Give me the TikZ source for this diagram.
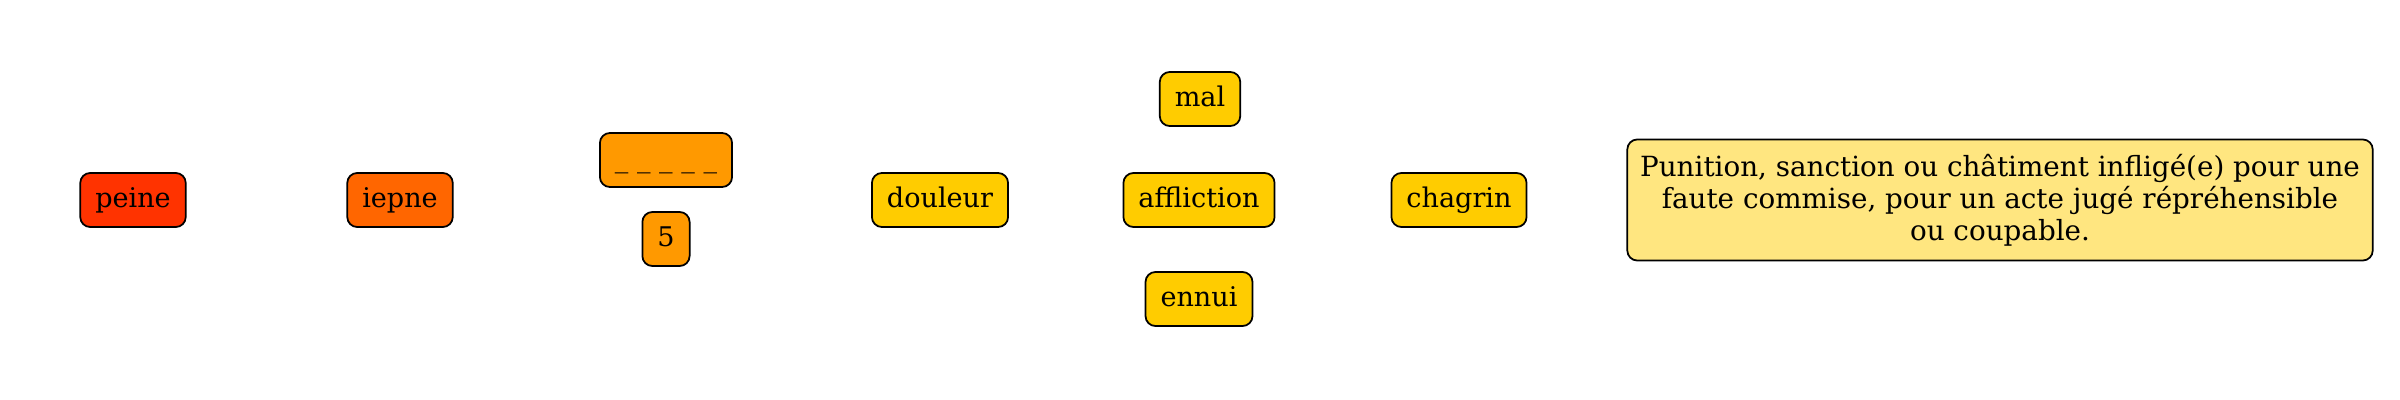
\documentclass[tikz,border=0pt]{standalone}
\usepackage{fontspec}
\setmainfont{DejaVu Serif}
\definecolor{cpeine}{HTML}{FF3300}
\definecolor{ciepne}{HTML}{FF6600}
\definecolor{corange}{HTML}{FF9900}
\definecolor{cyellow}{HTML}{FFCC00}
\definecolor{cdef}{HTML}{FFE680}
\begin{document}
\begin{tikzpicture}[x=0.01cm,y=-0.01cm,
  wbox/.style={draw=black, line width=0.5pt, rounded corners=0.1cm, inner xsep=0.15cm, inner ysep=0pt,
    minimum height=0.54cm, font=\fontsize{7.7pt}{9.4pt}\selectfont, text height=5.8pt, text depth=1.6pt},
  defbox/.style={draw=black, line width=0.5pt, rounded corners=0.1cm, fill=cdef, align=center,
    minimum width=7.45cm, minimum height=1.21cm, inner sep=0pt, font=\fontsize{7.9pt}{9.1pt}\selectfont}]
\useasboundingbox (0,0) rectangle (2400,400);
\node[wbox, fill=cpeine] (peine) at (133,200) {peine};
\node[wbox, fill=ciepne] (iepne) at (400,200) {iepne};
\node[wbox, fill=corange] (blank) at (666,160) {\_ \_ \_ \_ \_};
\node[wbox, fill=corange] (five) at (666,239) {5};
\node[wbox, fill=cyellow] (douleur) at (940,200) {douleur};
\node[wbox, fill=cyellow] (mal) at (1200,99) {mal};
\node[wbox, fill=cyellow] (affliction) at (1199,200) {affliction};
\node[wbox, fill=cyellow] (ennui) at (1199,299) {ennui};
\node[wbox, fill=cyellow] (chagrin) at (1459,200) {chagrin};
\node[defbox] (def) at (2000,200) {Punition, sanction ou châtiment infligé(e) pour une\\ faute commise, pour un acte jugé répréhensible\\ ou coupable.};
\end{tikzpicture}
\end{document}
